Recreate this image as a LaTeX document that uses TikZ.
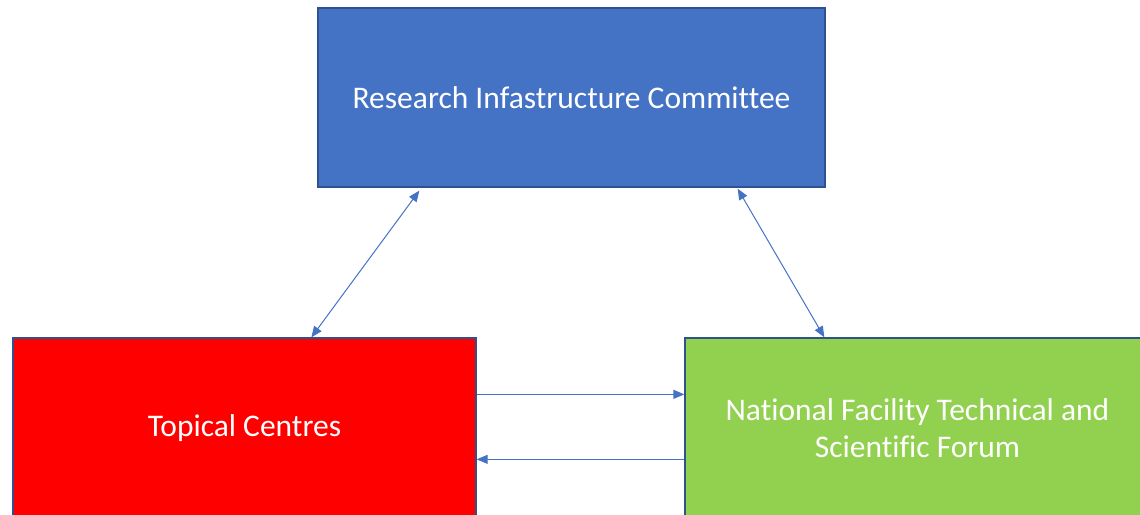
\documentclass[tikz,border=0pt]{standalone}
\usepackage{fontspec}
\setmainfont{Carlito}[Ligatures={NoCommon}]
\usetikzlibrary{arrows.meta}
\definecolor{boxblue}{HTML}{4472C4}
\definecolor{boxred}{HTML}{FF0000}
\definecolor{boxgreen}{HTML}{92D050}
\definecolor{boxedge}{HTML}{2F528F}
\tikzset{
    orgbox/.style={draw=boxedge, line width=1.3pt, text=white, align=center,
        font=\fontsize{31.5}{37}\selectfont, inner sep=0pt},
    link/.style={draw=boxblue, line width=1pt, {Triangle[length=11pt,width=9pt]}-{Triangle[length=11pt,width=9pt]}},
    oneway/.style={draw=boxblue, line width=1pt, -{Triangle[length=11pt,width=9pt]}}
}
\begin{document}
\begin{tikzpicture}[x=1pt, y=-1pt]
    \useasboundingbox (0,0) rectangle (1140,514);
    \clip (0,0) rectangle (1140,514);

    % Committee box
    \node[orgbox, fill=boxblue, minimum width=507pt, minimum height=179pt] (ric) at (571.5,97.5) {Research Infastructure Committee};

    % Lower boxes
    \node[orgbox, fill=boxred, minimum width=463pt, minimum height=180pt] (tc) at (244.5,428) {Topical Centres};
    \node[orgbox, fill=boxgreen, minimum width=465pt, minimum height=180pt] (nf) at (917.5,428) {National Facility Technical and\\Scientific Forum};

    % Links to the committee
    \draw[link] ([xshift=102pt,yshift=-3pt]ric.south west) -- ([xshift=299pt]tc.north west);
    \draw[link] ([xshift=-88pt,yshift=-1pt]ric.south east) -- ([xshift=140pt]nf.north west);

    % Links between centres and forum
    \draw[oneway] ([yshift=-57pt]tc.north east) -- ([yshift=-57pt]nf.north west);
    \draw[oneway] ([yshift=-122pt]nf.north west) -- ([yshift=-122pt]tc.north east);
\end{tikzpicture}
\end{document}
